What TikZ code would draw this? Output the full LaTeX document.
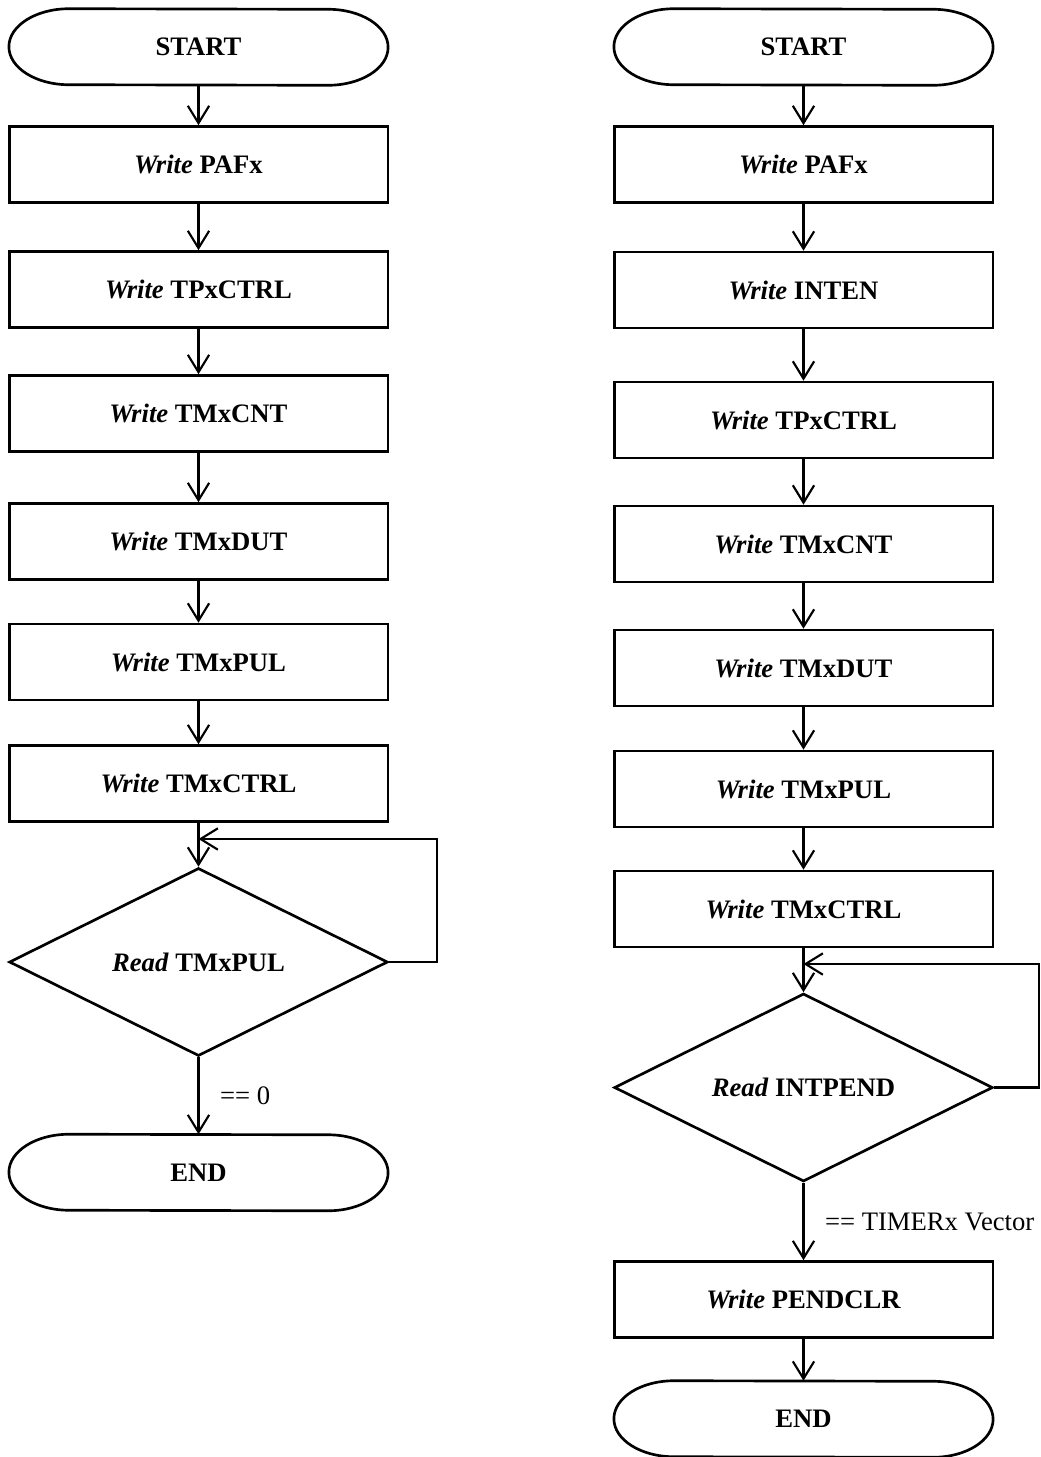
\documentclass[tikz,border=0pt]{standalone}
\usepackage{fontspec}
\setmainfont{Liberation Serif}
\usetikzlibrary{positioning,shapes.geometric,arrows.meta}

\tikzset{
  txt/.style={font=\fontsize{20}{24}\selectfont},
  btxt/.style={font=\fontsize{20}{24}\selectfont\bfseries},
  proc/.style={draw, line width=2pt, minimum width=284pt, minimum height=57pt, inner sep=0pt, btxt},
  term/.style={minimum width=284pt, minimum height=57pt, inner sep=0pt, btxt},
  dec/.style={diamond, aspect=2, draw, line width=2pt, minimum width=284pt, minimum height=141pt, inner sep=0pt, btxt},
  outl/.style={line width=2pt},
  arr/.style={-{Straight Barb[length=13pt,width=16pt]}, line width=1.6pt},
  cond/.style={anchor=west, xshift=12pt, txt}
}

% stadium outline round a terminal node
\newcommand{\termline}[1]{%
  \draw[outl] ([xshift=45pt]#1.north west)
    arc[start angle=90, end angle=270, x radius=45pt, y radius=28.5pt]
    -- ([xshift=-45pt]#1.south east)
    arc[start angle=-90, end angle=90, x radius=45pt, y radius=28.5pt] -- cycle;}

\begin{document}
\begin{tikzpicture}[x=0.75pt, y=-0.75pt]
    \useasboundingbox (0,0) rectangle (1040,1457);

    % left flow
    \node[term] (ls) at (198.5,47) {START};
    \termline{ls}
    \foreach \n/\y/\reg in {1/164.5/PAFx, 2/289.5/TPxCTRL, 3/413.5/TMxCNT, 4/541.5/TMxDUT, 5/662/TMxPUL, 6/783.5/TMxCTRL} {
        \node[proc] (l\n) at (198.5,\y) {\textit{Write} \reg};
    }
    \node[dec] (ld) at (198.5,962) {\textit{Read} TMxPUL};
    \node[term] (le) at (198.5,1172.5) {END};
    \termline{le}
    \foreach \a/\b in {ls/l1, l1/l2, l2/l3, l3/l4, l4/l5, l5/l6, l6/ld} {
        \draw[arr] (\a.south) -- (\b.north);
    }
    \coordinate (lj) at (198.5,839);
    \draw[arr] (ld.east) -- ++(48,0) |- (lj);
    \draw[arr] (ld.south) -- node[cond] {== 0} (le.north);

    % right flow
    \node[term] (rs) at (803.5,47) {START};
    \termline{rs}
    \foreach \n/\y/\reg in {1/164.5/PAFx, 2/290/INTEN, 3/420/TPxCTRL, 4/544/TMxCNT, 5/668/TMxDUT, 6/789/TMxPUL, 7/909/TMxCTRL} {
        \node[proc] (r\n) at (803.5,\y) {\textit{Write} \reg};
    }
    \node[dec] (rd) at (803.5,1087.5) {\textit{Read} INTPEND};
    \node[proc] (rc) at (803.5,1299.5) {\textit{Write} PENDCLR};
    \node[term] (re) at (803.5,1419) {END};
    \termline{re}
    \foreach \a/\b in {rs/r1, r1/r2, r2/r3, r3/r4, r4/r5, r5/r6, r6/r7, r7/rd, rc/re} {
        \draw[arr] (\a.south) -- (\b.north);
    }
    \coordinate (rj) at (803.5,964);
    \draw[arr] (rd.east) -- (1039,1087.5) |- (rj);
    \draw[arr] (rd.south) -- node[cond] {== TIMERx Vector} (rc.north);
\end{tikzpicture}
\end{document}
